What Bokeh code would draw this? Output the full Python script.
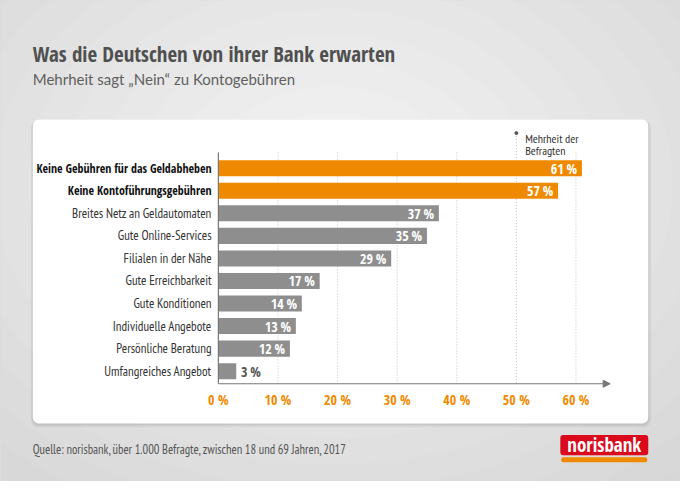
#bokeh bar chart - Was die Deutschen von ihrer Bank erwarten

from bokeh.plotting import figure
from bokeh.models import Range1d, Arrow, NormalHead, ColumnDataSource
from bokeh.core.properties import value
from bokeh.embed import file_html
from bokeh.resources import INLINE

#data
categories = ["Keine Gebühren für das Geldabheben", "Keine Kontoführungsgebühren",
              "Breites Netz an Geldautomaten", "Gute Online-Services", "Filialen in der Nähe",
              "Gute Erreichbarkeit", "Gute Konditionen", "Individuelle Angebote",
              "Persönliche Beratung", "Umfangreiches Angebot"]
shares = [61, 57, 37, 35, 29, 17, 14, 13, 12, 3]
highlight = [True, True, False, False, False, False, False, False, False, False]
ticks = [0, 10, 20, 30, 40, 50, 60]
tick_labels = ["0 %", "10 %", "20 %", "30 %", "40 %", "50 %", "60 %"]
majority = 50

title = "Was die Deutschen von ihrer Bank erwarten"
subtitle = "Mehrheit sagt \u201eNein\u201c zu Kontogebühren"
source_note = "Quelle: norisbank, über 1.000 Befragte, zwischen 18 und 69 Jahren, 2017"

BOLD = "Open Sans Condensed"
REG = "PT Sans Narrow"
SUB = "Lato"
ORANGE = "#ef8a00"
GREY = "#8e8e8e"

# layout helpers: picture pixel -> data units (x in percent, y in rows)
X0, XS = 223.0, 6.1
Y0, YS = 173.3, 23.3
def px(X):
    return (X - X0) / XS
def py(Y):
    return (Y - Y0) / YS

#figure (whole picture, 696x497, squeezed into 680x481)
p = figure(width=680, height=481, x_range=Range1d(px(0), px(696)),
           y_range=Range1d(py(497), py(0)), output_backend="svg",
           toolbar_location=None, min_border=0, x_axis_location=None,
           y_axis_location=None, outline_line_color=None,
           background_fill_color="#d6d6d6", border_fill_color="#d6d6d6")
p.grid.visible = False

#background gradient
n = 14
for i in range(n):
    t = i / (n - 1)
    c = int(0xd7 + (0xf0 - 0xd7) * t)
    p.ellipse(x=px(340), y=py(190), width=1100 - 70 * i, height=820 - 52 * i,
              width_units="screen", height_units="screen",
              fill_color="#%02x%02x%02x" % (c, c, c), line_color=None)

#white panel with shadow
p.quad(left=px(31), right=px(666), top=py(124), bottom=py(441),
       fill_color="#000000", fill_alpha=0.05, line_color=None, border_radius=8)
p.quad(left=px(32), right=px(664), top=py(123), bottom=py(439),
       fill_color="#000000", fill_alpha=0.07, line_color=None, border_radius=7)
p.quad(left=px(33), right=px(663), top=py(123), bottom=py(437),
       fill_color="white", line_color=None, border_radius=6)

#gridlines
for t in ticks[1:]:
    top = py(137) if t == majority else py(157)
    p.segment(x0=t, x1=t, y0=top, y1=py(396), line_color="#c4c4c4",
              line_width=1, line_dash="1 2")
p.scatter(x=[majority], y=[py(137)], size=3, color="#555555")
p.text(x=[px(537)], y=[py(143)], text=["Mehrheit der"], text_font=value(REG),
       text_font_size="12px", text_color="#333333", text_baseline="middle")
p.text(x=[px(537)], y=[py(155)], text=["Befragten"], text_font=value(REG),
       text_font_size="12px", text_color="#333333", text_baseline="middle")

#bars
rows = list(range(len(categories)))
src = ColumnDataSource(dict(y=rows, right=shares,
                            color=[ORANGE if h else GREY for h in highlight]))
p.hbar(y="y", left=0, right="right", height=0.71, fill_color="color",
       line_color=None, source=src)

#category labels
bold_rows = [r for r in rows if highlight[r]]
norm_rows = [r for r in rows if not highlight[r]]
p.text(x=[px(216)] * len(bold_rows), y=bold_rows,
       text=[categories[r] for r in bold_rows], text_font=value(BOLD),
       text_font_style="bold", text_font_size="12px", text_color="#111111",
       text_align="right", text_baseline="middle")
p.text(x=[px(216)] * len(norm_rows), y=norm_rows,
       text=[categories[r] for r in norm_rows], text_font=value(REG),
       text_font_size="13px", text_color="#333333",
       text_align="right", text_baseline="middle")

#value labels
inside = [r for r in rows if shares[r] >= 10]
outside = [r for r in rows if shares[r] < 10]
p.text(x=[shares[r] - 0.8 for r in inside], y=inside,
       text=["%d\u2009%%" % shares[r] for r in inside], text_font=value(BOLD),
       text_font_style="bold", text_font_size="14px", text_color="white",
       text_align="right", text_baseline="middle")
p.text(x=[shares[r] + 0.8 for r in outside], y=outside,
       text=["%d\u2009%%" % shares[r] for r in outside], text_font=value(BOLD),
       text_font_style="bold", text_font_size="14px", text_color="#555555",
       text_align="left", text_baseline="middle")

#axes
p.segment(x0=0, x1=0, y0=py(157), y1=py(396), line_color="#777777", line_width=1.2)
p.add_layout(Arrow(x_start=0, x_end=px(624), y_start=py(396), y_end=py(396),
                   line_color="#777777", line_width=1.2,
                   end=NormalHead(size=7, fill_color="#777777", line_color="#777777")))
p.text(x=ticks, y=[py(412)] * len(ticks), text=tick_labels, text_font=value(BOLD),
       text_font_style="bold", text_font_size="14px", text_color=ORANGE,
       text_align="center", text_baseline="middle")

#titles
p.text(x=[px(33)], y=[py(55)], text=[title], text_font=value(BOLD),
       text_font_style="bold", text_font_size="21px", text_color="#505050",
       text_baseline="middle")
p.text(x=[px(33)], y=[py(81)], text=[subtitle], text_font=value(SUB),
       text_font_size="15px", text_color="#606060", text_baseline="middle")
p.text(x=[px(33)], y=[py(463)], text=[source_note], text_font=value(REG),
       text_font_size="12.5px", text_color="#555555", text_baseline="middle")

#logo
p.quad(left=px(574), right=px(662), top=py(472), bottom=py(477),
       fill_color=ORANGE, line_color=None, border_radius=2)
p.quad(left=px(573), right=px(663), top=py(449), bottom=py(470),
       fill_color="#da0a1c", line_color=None, border_radius=3)
p.text(x=[px(618)], y=[py(459.5)], text=["norisbank"], text_font=value(BOLD),
       text_font_style="bold", text_font_size="19px", text_color="white",
       text_align="center", text_baseline="middle")

open("out.html", "w").write(file_html(p, INLINE))
